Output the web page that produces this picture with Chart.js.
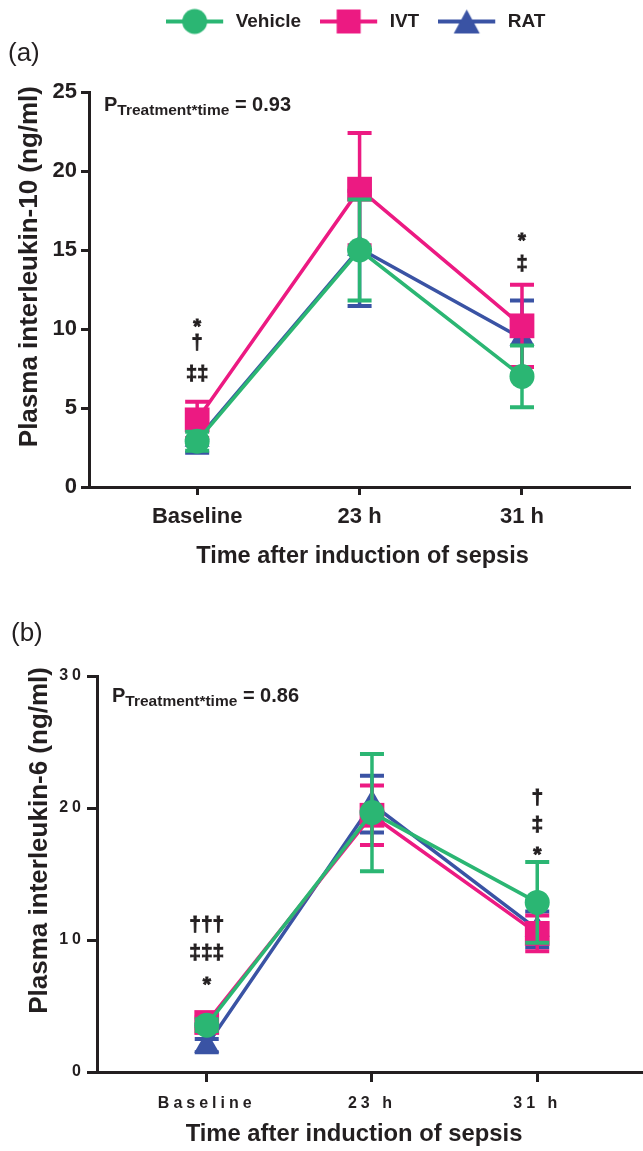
<!DOCTYPE html>
<html>
<head>
<meta charset="utf-8">
<script src="https://cdn.jsdelivr.net/npm/chart.js@4.4.1/dist/chart.umd.min.js"></script>
<style>
  html, body { margin: 0; padding: 0; background: #ffffff; }
  body { width: 643px; height: 1151px; position: relative; overflow: hidden; }
  .panel { position: absolute; left: 0; width: 643px; }
  canvas { display: block; }
</style>
</head>
<body>
<div class="panel" style="top:0px;height:580px"><canvas id="chartA" width="643" height="580"></canvas></div>
<div class="panel" style="top:590px;height:561px"><canvas id="chartB" width="643" height="561" data-ls="4px"></canvas></div>
<script>
// ---------------- data ----------------
const categories = ['Baseline', '23 h', '31 h'];
const seriesNames = ['Vehicle', 'IVT', 'RAT'];

// (a) Plasma interleukin-10 (ng/ml): mean and SEM
const il10Vehicle    = [2.9, 15.0, 7.0];
const il10VehicleSem = [0.6, 3.2, 1.95];
const il10Ivt        = [4.25, 18.85, 10.2];
const il10IvtSem     = [1.15, 3.55, 2.6];
const il10Rat        = [3.0, 15.1, 9.4];
const il10RatSem     = [0.83, 3.65, 2.4];
const il10Ticks      = [0, 5, 10, 15, 20, 25];
const il10P          = '0.93';

// (b) Plasma interleukin-6 (ng/ml): mean and SEM
const il6Vehicle    = [3.55, 19.65, 12.85];
const il6VehicleSem = [0.45, 4.45, 3.05];
const il6Ivt        = [3.75, 19.45, 10.5];
const il6IvtSem     = [0.4, 2.25, 1.35];
const il6Rat        = [2.0, 20.3, 10.8];
const il6RatSem     = [0.5, 2.15, 1.35];
const il6Ticks      = [0, 10, 20, 30];
const il6P          = '0.86';

// significance symbols (category index, value-axis position)
const il10Signs = [
  { text: '*',  at: 0, y: 9.77 },
  { text: '†',  at: 0, y: 8.71 },
  { text: '‡‡', at: 0, y: 6.75 },
  { text: '*',  at: 2, y: 15.17 },
  { text: '‡',  at: 2, y: 13.71 }
];
const il6Signs = [
  { text: '†††', at: 0, y: 10.7 },
  { text: '‡‡‡', at: 0, y: 8.56 },
  { text: '*',   at: 0, y: 6.12 },
  { text: '†',   at: 2, y: 20.3 },
  { text: '‡',   at: 2, y: 18.28 },
  { text: '*',   at: 2, y: 15.97 }
];

// ---------------- styles ----------------
const FONT = '"Liberation Sans", Arial, Helvetica, sans-serif';
const INK = '#231f20';
const COLORS = ['#2bb673', '#ec1a82', '#3a53a4'];
const POINT_STYLES = ['circle', 'rect', 'triangle'];
const POINT_RADII = [12.5, 17.5, 14.5];

// letter-spaced tick labels (panel b)
const origDrawLabels = Chart.Scale.prototype.drawLabels;
Chart.Scale.prototype.drawLabels = function (area) {
  const ls = this.chart.canvas.dataset.ls;
  const ctx = this.ctx;
  if (ls) { ctx.save(); ctx.letterSpacing = ls; }
  origDrawLabels.call(this, area);
  if (ls) { ctx.restore(); }
};
// small offsets for axis titles, as placed in the reference
const origDrawTitle = Chart.Scale.prototype.drawTitle;
Chart.Scale.prototype.drawTitle = function () {
  const offs = this.chart.config.options.titleOffsets || {};
  const off = offs[this.id];
  if (off) {
    this.ctx.save();
    this.ctx.translate(off[0], off[1]);
    origDrawTitle.call(this);
    this.ctx.restore();
  } else {
    origDrawTitle.call(this);
  }
};

function makeIcon(i) {
  const c = document.createElement('canvas');
  c.width = 60; c.height = 28;
  const g = c.getContext('2d');
  g.strokeStyle = COLORS[i]; g.fillStyle = COLORS[i]; g.lineWidth = 4;
  g.beginPath(); g.moveTo(0, 14); g.lineTo(57, 14); g.stroke();
  const cx = 28.5, cy = 14;
  g.beginPath();
  if (i === 0) { g.arc(cx, cy, 12.5, 0, Math.PI * 2); }
  else if (i === 1) { g.rect(cx - 12, cy - 12, 24, 24); }
  else { g.moveTo(cx, cy - 12); g.lineTo(cx + 13, cy + 12); g.lineTo(cx - 13, cy + 12); g.closePath(); }
  g.fill();
  return c;
}
const legendIcons = [0, 1, 2].map(makeIcon);

const errorBarPlugin = {
  id: 'errorBars',
  beforeDatasetDraw(chart, args) {
    const ds = chart.data.datasets[args.index];
    if (!ds.sem) return;
    const xs = chart.scales.x, ys = chart.scales.y, ctx = chart.ctx;
    ctx.save();
    ctx.strokeStyle = ds.borderColor;
    ds.data.forEach((p, i) => {
      const x = xs.getPixelForValue(p.x);
      const yTop = ys.getPixelForValue(p.y + ds.sem[i]);
      const yBot = ys.getPixelForValue(p.y - ds.sem[i]);
      ctx.lineWidth = 3.5;
      ctx.beginPath(); ctx.moveTo(x, yTop); ctx.lineTo(x, yBot); ctx.stroke();
      ctx.lineWidth = 4;
      ctx.beginPath();
      ctx.moveTo(x - 12, yTop); ctx.lineTo(x + 12, yTop);
      ctx.moveTo(x - 12, yBot); ctx.lineTo(x + 12, yBot);
      ctx.stroke();
    });
    ctx.restore();
  }
};

const signPlugin = {
  id: 'signs',
  afterDatasetsDraw(chart) {
    const cfg = chart.config.options.signCfg;
    if (!cfg) return;
    const ctx = chart.ctx, xs = chart.scales.x, ys = chart.scales.y;
    ctx.save();
    ctx.fillStyle = INK;
    ctx.strokeStyle = INK;
    ctx.lineWidth = 0.9;
    ctx.font = 'bold ' + cfg.size + 'px ' + FONT;
    ctx.textAlign = 'center';
    ctx.textBaseline = 'alphabetic';
    cfg.signs.forEach(s => {
      const x = xs.getPixelForValue(s.at), y = ys.getPixelForValue(s.y);
      ctx.fillText(s.text, x, y);
      ctx.strokeText(s.text, x, y);
    });
    ctx.restore();
  }
};

const panelTextPlugin = {
  id: 'panelText',
  afterDraw(chart) {
    const cfg = chart.config.options.panelCfg;
    if (!cfg) return;
    const ctx = chart.ctx, a = chart.chartArea;
    ctx.save();
    ctx.fillStyle = INK;
    ctx.textBaseline = 'alphabetic';
    ctx.textAlign = 'left';
    ctx.font = '26px ' + FONT;
    ctx.fillText(cfg.letter, cfg.letterX, cfg.letterY);
    let x = a.left + cfg.pdx;
    const y = a.top + cfg.pdy;
    ctx.font = 'bold 20px ' + FONT;
    ctx.fillText('P', x, y);
    x += ctx.measureText('P').width;
    ctx.font = 'bold 15.5px ' + FONT;
    ctx.fillText('Treatment*time', x, y + 4);
    x += ctx.measureText('Treatment*time').width;
    ctx.font = 'bold 20px ' + FONT;
    ctx.fillText(' = ' + cfg.p, x, y);
    ctx.restore();
  }
};

const legendPlacePlugin = {
  id: 'legendPlace',
  afterLayout(chart) {
    const lg = chart.legend;
    if (!lg || !chart.config.options.legendCfg) return;
    const c = chart.config.options.legendCfg;
    const w = lg.right - lg.left, h = lg.bottom - lg.top;
    lg.left = c.centerX - w / 2; lg.right = c.centerX + w / 2;
    lg.top = c.top; lg.bottom = c.top + h;
  }
};

function buildDatasets(values, sems) {
  return seriesNames.map((name, i) => ({
    label: name,
    data: values[i].map((v, k) => ({ x: k, y: v })),
    sem: sems[i],
    borderColor: COLORS[i],
    backgroundColor: COLORS[i],
    borderWidth: 3.5,
    pointStyle: POINT_STYLES[i],
    pointRadius: POINT_RADII[i],
    pointHoverRadius: POINT_RADII[i],
    pointBackgroundColor: COLORS[i],
    pointBorderColor: COLORS[i],
    pointBorderWidth: 0,
    tension: 0,
    clip: false
  }));
}

function axisCommon(tickLen) {
  return {
    grid: { display: true, drawOnChartArea: false, drawTicks: true, tickLength: tickLen, tickWidth: 3, tickColor: INK, color: INK },
    border: { display: true, width: 3, color: INK }
  };
}

function makeChart(id, o) {
  const chart = new Chart(document.getElementById(id), {
    type: 'line',
    data: { datasets: buildDatasets(o.values, o.sems) },
    plugins: [errorBarPlugin, signPlugin, panelTextPlugin, legendPlacePlugin],
    options: {
      responsive: false,
      animation: false,
      devicePixelRatio: 1,
      events: [],
      layout: { autoPadding: false, padding: Object.assign({}, o.padding) },
      signCfg: o.signCfg,
      panelCfg: o.panelCfg,
      legendCfg: o.legendCfg,
      titleOffsets: o.titleOffsets,
      plugins: {
        tooltip: { enabled: false },
        legend: o.legend
      },
      scales: {
        x: Object.assign(axisCommon(o.xTickLen), {
          type: 'linear',
          min: o.xMin, max: o.xMax,
          afterBuildTicks: s => { s.ticks = categories.map((_, i) => ({ value: i })); },
          afterFit: s => { s.height = o.xHeight; s.paddingLeft = 0; s.paddingRight = 0; },
          ticks: {
            callback: v => categories[v] ?? '',
            autoSkip: false, maxRotation: 0, minRotation: 0,
            padding: o.xTickPad, color: INK,
            font: { family: FONT, size: o.xTickSize, weight: 'bold' }
          },
          title: { display: true, text: 'Time after induction of sepsis', color: INK, padding: 0,
                   font: { family: FONT, size: o.xTitleSize, weight: 'bold' } }
        }),
        y: Object.assign(axisCommon(o.yTickLen), {
          type: 'linear',
          min: o.yTicks[0], max: o.yTicks[o.yTicks.length - 1],
          afterBuildTicks: s => { s.ticks = o.yTicks.map(v => ({ value: v })); },
          afterFit: s => { s.width = o.yWidth; },
          ticks: {
            padding: o.yTickPad, color: INK,
            font: { family: FONT, size: o.yTickSize, weight: 'bold' }
          },
          title: { display: true, text: o.yTitle, color: INK, padding: 0, align: 'end',
                   font: { family: FONT, size: 26, weight: 'bold' } }
        })
      }
    }
  });
  // make sure the plot area ends where the reference's axis ends
  const diff = o.areaRight - chart.chartArea.right;
  if (Math.abs(diff) > 0.5) {
    chart.options.layout.padding.right = o.padding.right - diff;
    chart.update();
  }
  return chart;
}

makeChart('chartA', {
  values: [il10Vehicle, il10Ivt, il10Rat],
  sems: [il10VehicleSem, il10IvtSem, il10RatSem],
  yTicks: il10Ticks,
  yTitle: 'Plasma interleukin-10 (ng/ml)',
  padding: { top: 44, left: 14, right: 13, bottom: 9 },
  areaRight: 630,
  xMin: -0.666, xMax: 2.665,
  xHeight: 84, yWidth: 75,
  xTickLen: 8, yTickLen: 8,
  xTickPad: 9, yTickPad: 4,
  xTickSize: 22, yTickSize: 22, xTitleSize: 23.5,
  titleOffsets: { x: [3, 0], y: [0, -6] },
  signCfg: { size: 20, signs: il10Signs },
  panelCfg: { letter: '(a)', letterX: 8, letterY: 61, pdx: 15, pdy: 19, p: il10P },
  legendCfg: { centerX: 355.75, top: -7 },
  legend: {
    display: true,
    position: 'top',
    align: 'center',
    labels: {
      usePointStyle: true,
      pointStyleWidth: 60,
      padding: 19,
      color: INK,
      font: { family: FONT, size: 19, weight: 'bold' },
      generateLabels: chart => chart.data.datasets.map((ds, i) => ({
        text: ds.label, datasetIndex: i, pointStyle: legendIcons[i],
        fillStyle: COLORS[i], strokeStyle: COLORS[i], fontColor: INK, lineWidth: 0, hidden: false
      }))
    }
  }
});

makeChart('chartB', {
  values: [il6Vehicle, il6Ivt, il6Rat],
  sems: [il6VehicleSem, il6IvtSem, il6RatSem],
  yTicks: il6Ticks,
  yTitle: 'Plasma interleukin-6 (ng/ml)',
  padding: { top: 86, left: 24, right: 0, bottom: 2 },
  areaRight: 643,
  xMin: -0.664, xMax: 2.64,
  xHeight: 77, yWidth: 73,
  xTickLen: 10, yTickLen: 10,
  xTickPad: 12, yTickPad: 2,
  xTickSize: 16, yTickSize: 16, xTitleSize: 23.8,
  titleOffsets: { x: [-16, 0], y: [0, -9] },
  signCfg: { size: 21, signs: il6Signs },
  panelCfg: { letter: '(b)', letterX: 11, letterY: 51, pdx: 15, pdy: 26, p: il6P },
  legendCfg: null,
  legend: { display: false }
});
</script>
</body>
</html>
